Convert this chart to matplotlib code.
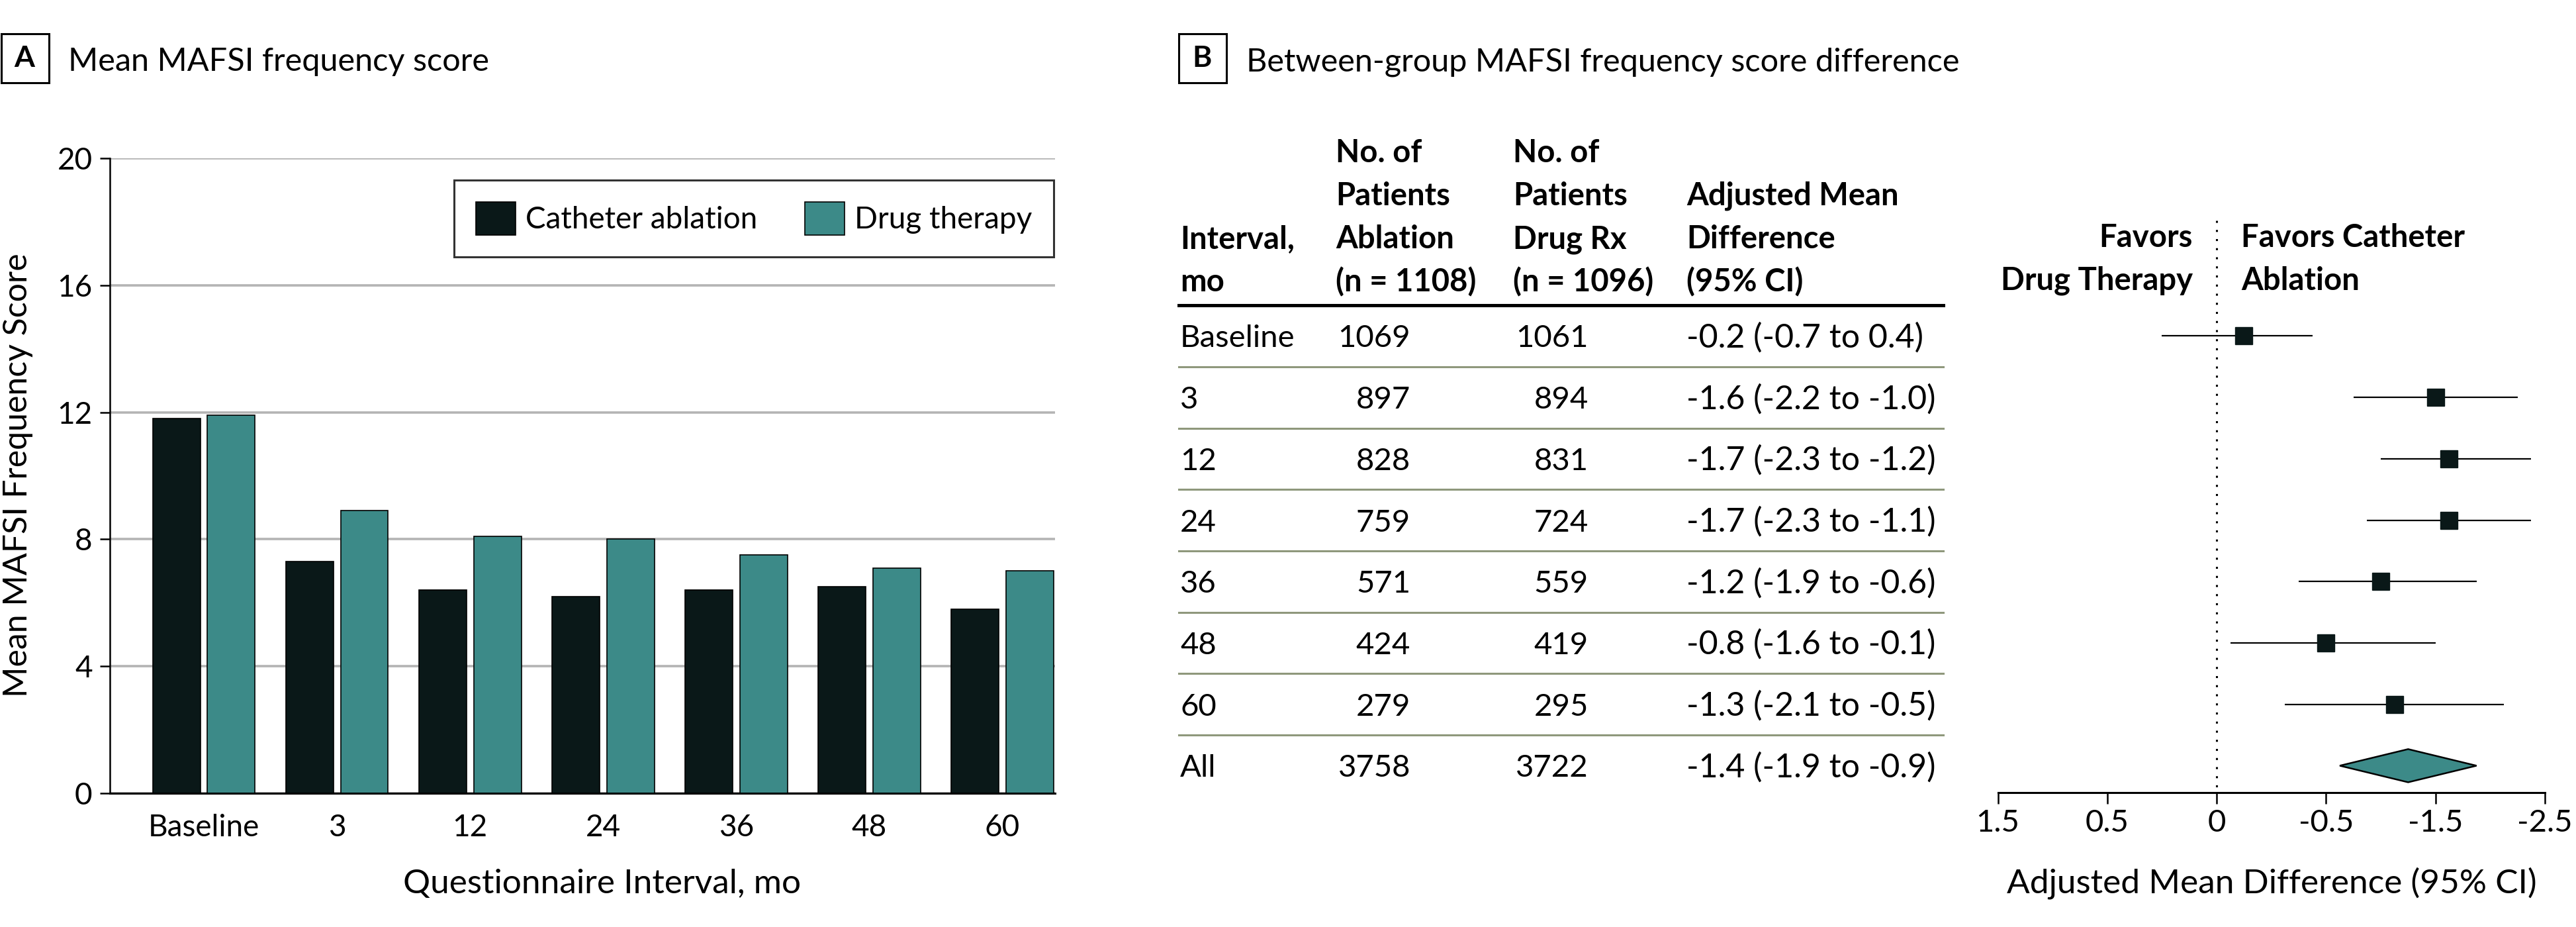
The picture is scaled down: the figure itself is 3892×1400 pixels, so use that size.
import matplotlib
matplotlib.use('Agg')
import matplotlib.pyplot as plt
from matplotlib.patches import Rectangle, Polygon
from matplotlib.lines import Line2D
from matplotlib import transforms as mtrans
import numpy as np

plt.rcParams['font.family'] = ['Lato', 'DejaVu Sans']

# ---------------- data ----------------
intervals = ['Baseline', '3', '12', '24', '36', '48', '60']
ablation_mean = [11.8, 7.3, 6.4, 6.2, 6.4, 6.5, 5.8]
drug_mean = [11.9, 8.9, 8.1, 8.0, 7.5, 7.1, 7.0]

rows = ['Baseline', '3', '12', '24', '36', '48', '60', 'All']
n_ablation = [1069, 897, 828, 759, 571, 424, 279, 3758]
n_drug = [1061, 894, 831, 724, 559, 419, 295, 3722]
diff = [-0.2, -1.6, -1.7, -1.7, -1.2, -0.8, -1.3, -1.4]
ci_low = [-0.7, -2.2, -2.3, -2.3, -1.9, -1.6, -2.1, -1.9]
ci_high = [0.4, -1.0, -1.2, -1.1, -0.6, -0.1, -0.5, -0.9]
forest_tick_pos = [1.6, 0.8, 0, -0.8, -1.6, -2.4]
forest_tick_labels = ['1.5', '0.5', '0', '-0.5', '-1.5', '-2.5']

DARK = '#0a1818'
TEAL = '#3c8a88'
GRID = '#b4b4b4'
SEP = '#8f987c'

W, H = 3892, 1400


def fx(x):
    return x / W


def fy(y):
    return 1 - y / H


fig = plt.figure(figsize=(W / 100, H / 100), dpi=100)

# ---------------- panel titles ----------------
for bx, letter, tx, title in [(0, 'A', 103, 'Mean MAFSI frequency score'),
                              (1779, 'B', 1883, 'Between-group MAFSI frequency score difference')]:
    fig.add_artist(Rectangle((fx(bx + 1.5), fy(125)), 72 / W, 74 / H, transform=fig.transFigure,
                             fill=False, edgecolor='black', lw=2.2))
    fig.text(fx(bx + 37), fy(88), letter, ha='center', va='center', fontsize=32, fontweight='bold')
    fig.text(fx(tx), fy(107), title, ha='left', va='baseline', fontsize=35)

# ---------------- panel A ----------------
axA = fig.add_axes([fx(166), fy(1198), (1594 - 166) / W, (1198 - 239) / H])
x = np.arange(len(intervals))
bw = 0.358
off = 0.206
axA.bar(x - off, ablation_mean, bw, color=DARK, edgecolor='black', linewidth=1.2,
        label='Catheter ablation', zorder=3)
axA.bar(x + off, drug_mean, bw, color=TEAL, edgecolor='black', linewidth=1.2,
        label='Drug therapy', zorder=3)
axA.set_xlim(-0.706, 6.395)
axA.set_ylim(0, 20)
axA.set_yticks([0, 4, 8, 12, 16, 20])
axA.set_xticks(x, intervals)
axA.set_axisbelow(True)
axA.yaxis.grid(True, color=GRID, lw=2.6)
for s in ['top', 'right']:
    axA.spines[s].set_visible(False)
axA.spines['left'].set_linewidth(1.8)
axA.spines['bottom'].set_linewidth(2.2)
axA.spines['bottom'].set_zorder(4)
axA.tick_params(axis='y', length=11, width=1.8, pad=8, labelsize=33)
axA.tick_params(axis='x', length=0, pad=22, labelsize=33)

leg_fs = 33
fs_px = leg_fs / 0.72
axA.legend(loc='upper right', bbox_to_anchor=(fx(1592), fy(272)), bbox_transform=fig.transFigure,
           ncol=2, fontsize=leg_fs, frameon=True, fancybox=False, edgecolor='black',
           borderaxespad=0, borderpad=33 / fs_px, handlelength=60 / fs_px, handleheight=59 / fs_px,
           handletextpad=15 / fs_px, columnspacing=72 / fs_px).get_frame().set_linewidth(2.2)

fig.text(fx(27), fy(718), 'Mean MAFSI Frequency Score', rotation=90, ha='center', va='center',
         fontsize=36)
fig.text(fx(910), fy(1349), 'Questionnaire Interval, mo', ha='center', va='baseline', fontsize=37)

# ---------------- panel B: forest ----------------
axF = fig.add_axes([fx(3018.5), fy(1197), (3845 - 3018.5) / W, (1197 - 300) / H])
axF.set_xlim(1.6, -2.4)
axF.set_ylim(7.438, -2.238)
r = np.arange(len(rows))
axF.hlines(r[:-1], ci_low[:-1], ci_high[:-1], color='black', lw=1.6, zorder=2)
axF.plot(diff[:-1], r[:-1], 's', ms=18.5, color=DARK, mec=DARK, zorder=3)
dh = 0.27
axF.add_patch(Polygon([(ci_low[-1], r[-1]), (diff[-1], r[-1] - dh), (ci_high[-1], r[-1]),
                       (diff[-1], r[-1] + dh)], closed=True, facecolor=TEAL, edgecolor='black',
                      lw=1.8, zorder=3))
axF.vlines(0, -1.88, 7.438, colors='black', linestyles=(0, (1, 3.5)), lw=2.2, zorder=1)
for s in ['top', 'right', 'left']:
    axF.spines[s].set_visible(False)
axF.spines['bottom'].set_linewidth(2.2)
axF.set_yticks([])
axF.set_xticks(forest_tick_pos, forest_tick_labels)
axF.tick_params(axis='x', length=12, width=1.8, pad=6, labelsize=34)
fig.text(fx(3432), fy(1349), 'Adjusted Mean Difference (95% CI)', ha='center', va='baseline',
         fontsize=37)

fig.text(fx(3313), fy(373), 'Favors', ha='right', va='baseline', fontsize=34, fontweight='bold')
fig.text(fx(3313), fy(438), 'Drug Therapy', ha='right', va='baseline', fontsize=34, fontweight='bold')
fig.text(fx(3386), fy(373), 'Favors Catheter', ha='left', va='baseline', fontsize=34, fontweight='bold')
fig.text(fx(3386), fy(438), 'Ablation', ha='left', va='baseline', fontsize=34, fontweight='bold')

# ---------------- panel B: table ----------------
tb = mtrans.blended_transform_factory(fig.transFigure, axF.transData)
tb_text = tb + mtrans.ScaledTranslation(0, -17 / 100, fig.dpi_scale_trans)

headers = [(1783, ['Interval,', 'mo']),
           (2018, ['No. of', 'Patients', 'Ablation', '(n = 1108)']),
           (2286, ['No. of', 'Patients', 'Drug Rx', '(n = 1096)']),
           (2548, ['Adjusted Mean', 'Difference', '(95% CI)'])]
baselines = [245, 310, 375, 440]
for hx, lines in headers:
    for i, ln in enumerate(lines):
        fig.text(fx(hx), fy(baselines[4 - len(lines) + i]), ln, ha='left', va='baseline',
                 fontsize=34, fontweight='bold')

for i, lab in enumerate(rows):
    fig.text(fx(1783), i, lab, transform=tb_text, ha='left', va='baseline', fontsize=34)
    fig.text(fx(2131), i, str(n_ablation[i]), transform=tb_text, ha='right', va='baseline', fontsize=34)
    fig.text(fx(2400), i, str(n_drug[i]), transform=tb_text, ha='right', va='baseline', fontsize=34)
    fig.text(fx(2548), i, f"{diff[i]:.1f} ({ci_low[i]:.1f} to {ci_high[i]:.1f})", transform=tb_text,
             ha='left', va='baseline', fontsize=36)

fig.add_artist(Line2D([fx(1781), fx(2936)], [-0.5, -0.5], transform=tb, color='black', lw=3.6))
for k in range(len(rows) - 1):
    fig.add_artist(Line2D([fx(1781), fx(2936)], [k + 0.5, k + 0.5], transform=tb, color=SEP, lw=2.2))

fig.savefig('out.png', dpi=100)
